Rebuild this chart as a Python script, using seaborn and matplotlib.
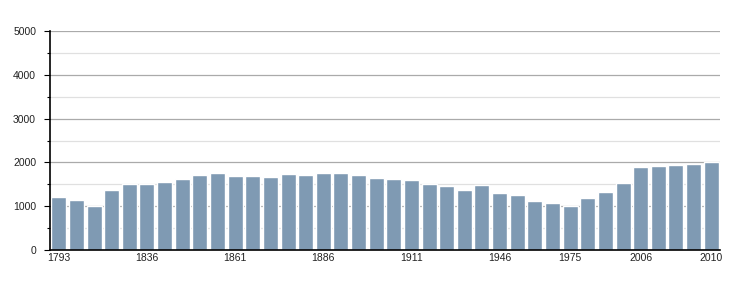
import matplotlib
matplotlib.use("Agg")
import matplotlib.pyplot as plt
import seaborn as sns
import pandas as pd
from matplotlib.ticker import MultipleLocator

years = [1793, 1800, 1806, 1821, 1831, 1836, 1841, 1846, 1851, 1856,
         1861, 1866, 1872, 1876, 1881, 1886, 1891, 1896, 1901, 1906,
         1911, 1921, 1926, 1931, 1936, 1946, 1954, 1962, 1968, 1975,
         1982, 1990, 1999, 2006, 2007, 2008, 2009, 2010]
population = [1214, 1145, 1008, 1374, 1511, 1511, 1557, 1626, 1718, 1763,
              1695, 1695, 1672, 1740, 1718, 1763, 1763, 1718, 1649, 1626,
              1603, 1511, 1466, 1374, 1489, 1305, 1260, 1122, 1076, 1008,
              1191, 1328, 1534, 1901, 1924, 1947, 1969, 2000]
label_years = [1793, 1836, 1861, 1886, 1911, 1946, 1975, 2006, 2010]

df = pd.DataFrame({"year": [str(y) for y in years], "pop": population})

sns.set_style("white")
plt.rcParams['font.family'] = ['Liberation Sans', 'DejaVu Sans']

fig = plt.figure(figsize=(7.5, 3.0), dpi=100)
ax = fig.add_axes([50/750, 50/300, 670/750, 219/300])

sns.barplot(data=df, x="year", y="pop", color="#7f9ab3", saturation=1,
            width=0.85, ax=ax, zorder=3)

ax.set_ylim(0, 5000)
ax.set_xlim(-0.5, len(years) - 0.5)
ax.yaxis.set_major_locator(MultipleLocator(1000))
ax.yaxis.set_minor_locator(MultipleLocator(500))
ax.grid(axis="y", which="major", color="#aaaaaa", linewidth=0.9, zorder=0)
ax.grid(axis="y", which="minor", color="#e0e0e0", linewidth=0.9, zorder=0)
ax.set_axisbelow(True)

pos = [years.index(y) for y in label_years]
ax.set_xticks(pos)
ax.set_xticklabels([str(y) for y in label_years], fontsize=7.5, color="#222222")
ax.tick_params(axis="x", length=0, pad=2)
ax.tick_params(axis="y", which="major", length=4, width=0.8, color="#000000",
               labelsize=7.5, labelcolor="#222222", pad=6, left=True)
ax.tick_params(axis="y", which="minor", length=2.2, width=0.8, color="#000000", left=True)
ax.set_yticks([0, 1000, 2000, 3000, 4000, 5000])

for s in ["top", "right"]:
    ax.spines[s].set_visible(False)
for s in ["left", "bottom"]:
    ax.spines[s].set_color("#000000")
    ax.spines[s].set_linewidth(1.2)
    ax.spines[s].set_zorder(5)

ax.set_xlabel("")
ax.set_ylabel("")

fig.savefig("out.png", dpi=100, facecolor="white")
